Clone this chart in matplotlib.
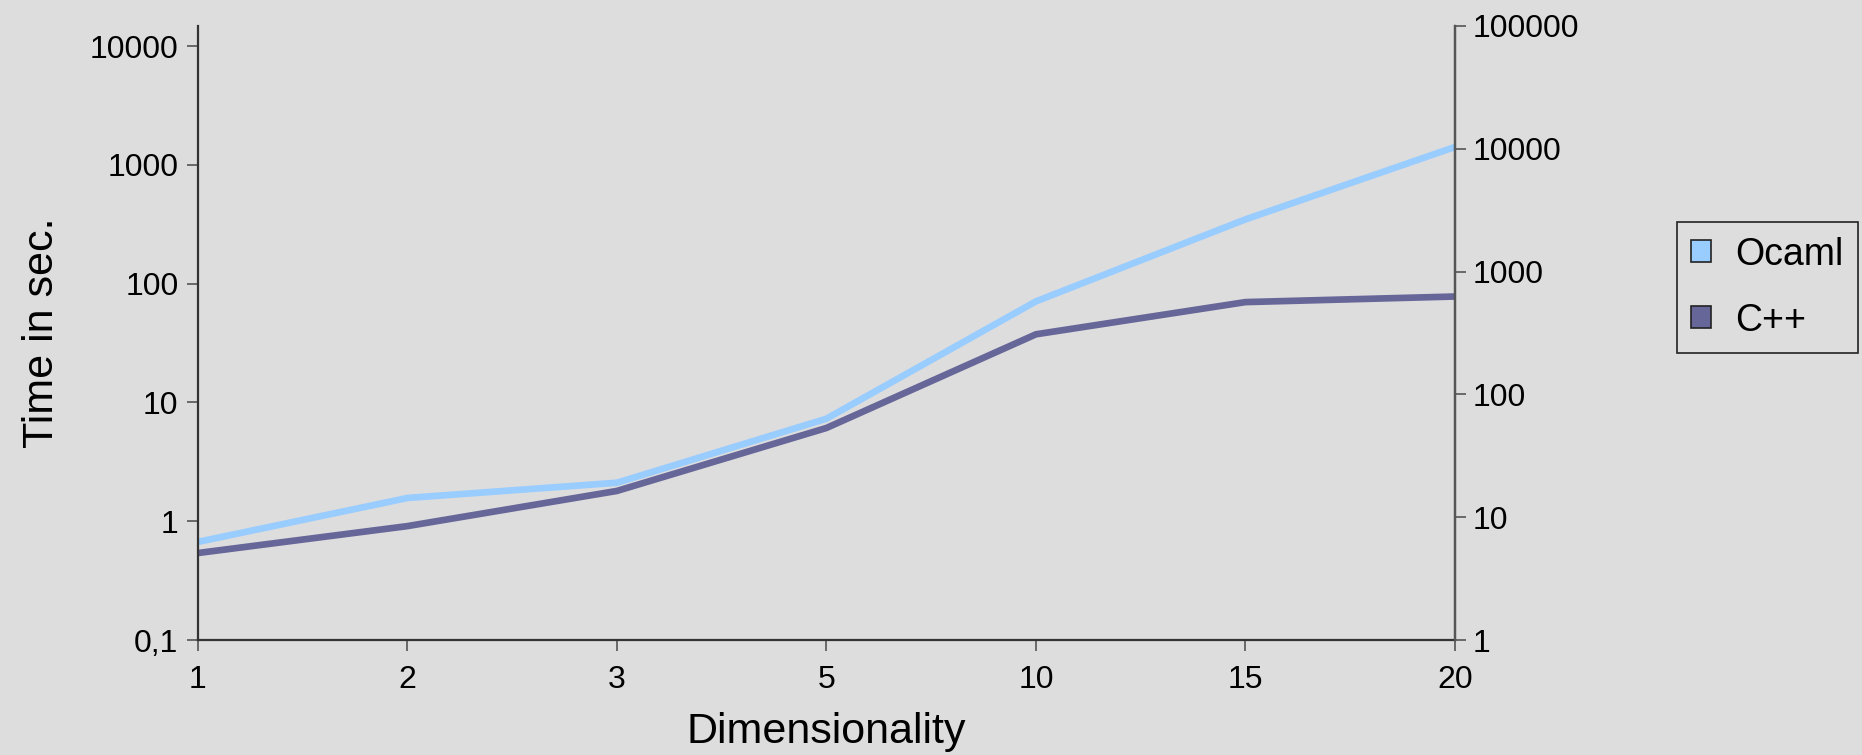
import numpy as np
from matplotlib import pyplot as plt
from matplotlib.patches import Patch
from matplotlib.ticker import FixedLocator, FuncFormatter, NullLocator

dims = ["1", "2", "3", "5", "10", "15", "20"]
ocaml = [0.67, 1.57, 2.11, 7.3, 71, 348, 1416]
cpp = [0.54, 0.91, 1.8, 6.1, 37.5, 70, 78]
left_ticks = [0.1, 1, 10, 100, 1000, 10000]
right_ticks = [1, 10, 100, 1000, 10000, 100000]

bg = "#dddddd"
c_ocaml = "#99ccff"
c_cpp = "#666699"

plt.rcParams['font.family'] = ['Liberation Sans', 'DejaVu Sans']

fig = plt.figure(figsize=(18.62, 7.55), dpi=100, facecolor=bg)
ax = fig.add_axes([0.1063, 0.1523, 0.6751, 0.8133])
ax.set_facecolor(bg)

x = np.arange(len(dims))
ax.plot(x, ocaml, color=c_ocaml, lw=4.8, solid_joinstyle='miter')
ax.plot(x, cpp, color=c_cpp, lw=4.8, solid_joinstyle='miter')

ax.set_yscale('log')
ax.set_ylim(0.1, 10 ** 4.17)
ax.set_xlim(0, len(dims) - 1)
ax.set_xticks(x)
ax.set_xticklabels(dims)
ax.yaxis.set_major_locator(FixedLocator(left_ticks))
ax.yaxis.set_minor_locator(NullLocator())
ax.yaxis.set_major_formatter(FuncFormatter(lambda v, p: ("%g" % v).replace('.', ',')))

ax.spines['top'].set_visible(False)
for s in ['left', 'bottom', 'right']:
    ax.spines[s].set_color('#333333')
    ax.spines[s].set_linewidth(1.6)
ax.tick_params(axis='y', direction='out', length=8, width=1.2, color='#555555',
               labelsize=23, pad=6)
ax.tick_params(axis='x', direction='out', length=8, width=1.2, color='#555555',
               labelsize=23, pad=10)

ax2 = ax.twinx()
ax2.set_yscale('log')
ax2.set_ylim(1, 100000)
ax2.yaxis.set_major_locator(FixedLocator(right_ticks))
ax2.yaxis.set_minor_locator(NullLocator())
ax2.yaxis.set_major_formatter(FuncFormatter(lambda v, p: "%d" % v))
ax2.spines['top'].set_visible(False)
ax2.spines['left'].set_visible(False)
ax2.spines['bottom'].set_visible(False)
ax2.spines['right'].set_color('#555555')
ax2.spines['right'].set_linewidth(1.6)
ax2.tick_params(axis='y', direction='out', length=8, width=1.2, color='#555555',
                labelsize=23, pad=5)

ax.set_xlabel("Dimensionality", fontsize=31, labelpad=12)
ax.set_ylabel("Time in sec.", fontsize=31, labelpad=20)

handles = [Patch(facecolor=c_ocaml, edgecolor='#222222', lw=1.2),
           Patch(facecolor=c_cpp, edgecolor='#222222', lw=1.2)]
leg = fig.legend(handles, ["Ocaml", "C++"], loc='center left',
                 bbox_to_anchor=(0.9006, 0.619), fontsize=27, frameon=True,
                 fancybox=False, edgecolor='#222222', facecolor=bg,
                 handlelength=0.53, handleheight=0.53, handletextpad=0.65,
                 borderpad=0.38, labelspacing=0.8, borderaxespad=0)
leg.get_frame().set_linewidth(1.2)
leg.get_frame().set_alpha(None)

fig.savefig("out.png", dpi=100, facecolor=bg)
